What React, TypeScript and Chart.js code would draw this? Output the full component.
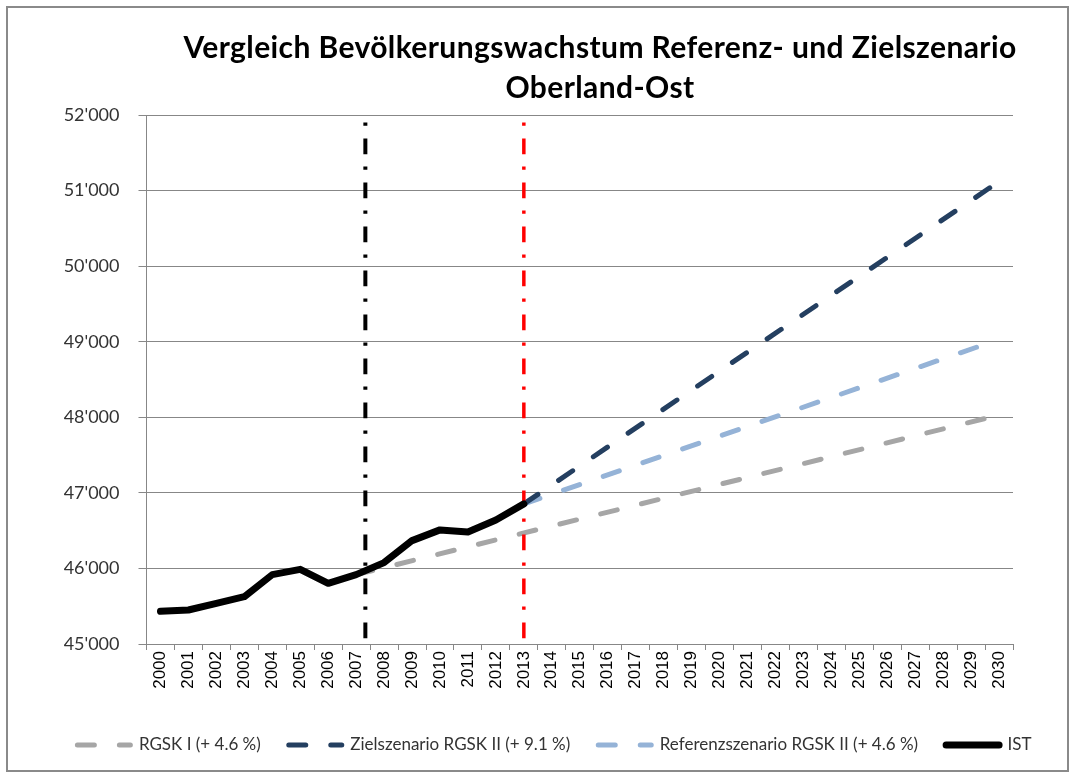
import React, { useEffect, useRef } from 'react';
import { Chart, registerables } from 'chart.js';

Chart.register(...registerables);

const years = [
  '2000', '2001', '2002', '2003', '2004', '2005', '2006', '2007', '2008', '2009',
  '2010', '2011', '2012', '2013', '2014', '2015', '2016', '2017', '2018', '2019',
  '2020', '2021', '2022', '2023', '2024', '2025', '2026', '2027', '2028', '2029', '2030',
];

// IST (actual population)
const istValues = [
  45432, 45450, 45538, 45626, 45918, 45988, 45803, 45918, 46077, 46368,
  46510, 46483, 46642, 46854, null, null, null, null, null, null,
  null, null, null, null, null, null, null, null, null, null, null,
];

// RGSK I (+ 4.6 %) – straight projection from 2007 to 2030
const rgsk1Values = [
  null, null, null, null, null, null, null, 45918, null, null,
  null, null, null, null, null, null, null, null, null, null,
  null, null, null, null, null, null, null, null, null, null, 48030,
];

// Zielszenario RGSK II (+ 9.1 %) – from 2013 to 2030
const zielValues = [
  null, null, null, null, null, null, null, null, null, null,
  null, null, null, 46854, null, null, null, null, null, null,
  null, null, null, null, null, null, null, null, null, null, 51120,
];

// Referenzszenario RGSK II (+ 4.6 %) – from 2013 to 2030
const referenzValues = [
  null, null, null, null, null, null, null, null, null, null,
  null, null, null, 46854, null, null, null, null, null, null,
  null, null, null, null, null, null, null, null, null, null, 49030,
];

const seriesLabels = [
  'RGSK I (+ 4.6 %)',
  'Zielszenario RGSK II (+ 9.1 %)',
  'Referenzszenario RGSK II (+ 4.6 %)',
  'IST',
];

// Vertical markers (category index position) and their vertical extent
const blackMarkerPos = 7.33;
const redMarkerPos = 13;
const markerExtent = [51900, 45000];

const yTicksMin = 45000;
const yTicksMax = 52000;
const yTickStep = 1000;

const fmt = (v: number) => {
  const s = Math.round(v).toString();
  return s.length > 3 ? s.slice(0, s.length - 3) + "'" + s.slice(s.length - 3) : s;
};

export default function App() {
  const ref = useRef<HTMLCanvasElement>(null);

  useEffect(() => {
    if (!ref.current) return;
    const dash = [17, 25];
    const chart = new Chart(ref.current, {
      type: 'line',
      data: {
        labels: years,
        datasets: [
          {
            label: seriesLabels[0],
            data: rgsk1Values,
            borderColor: '#A6A6A6',
            backgroundColor: '#A6A6A6',
            borderWidth: 5,
            borderDash: dash,
            borderCapStyle: 'round',
            spanGaps: true,
            pointRadius: 0,
            order: 4,
          },
          {
            label: seriesLabels[1],
            data: zielValues,
            borderColor: '#243F60',
            backgroundColor: '#243F60',
            borderWidth: 5,
            borderDash: dash,
            borderCapStyle: 'round',
            spanGaps: true,
            pointRadius: 0,
            order: 3,
          },
          {
            label: seriesLabels[2],
            data: referenzValues,
            borderColor: '#95B3D7',
            backgroundColor: '#95B3D7',
            borderWidth: 5,
            borderDash: dash,
            borderCapStyle: 'round',
            spanGaps: true,
            pointRadius: 0,
            order: 3,
          },
          {
            label: seriesLabels[3],
            data: istValues,
            borderColor: '#000000',
            backgroundColor: '#000000',
            borderWidth: 7,
            borderCapStyle: 'round',
            borderJoinStyle: 'round',
            pointRadius: 0,
            order: 0,
          },
          {
            label: 'marker2007',
            xAxisID: 'x2',
            data: markerExtent.map((y) => ({ x: blackMarkerPos, y })),
            borderColor: '#000000',
            borderWidth: 4,
            borderDash: [3.3, 12.7, 15.7, 12.3],
            borderCapStyle: 'butt',
            pointRadius: 0,
            order: 1,
          },
          {
            label: 'marker2013',
            xAxisID: 'x2',
            data: markerExtent.map((y) => ({ x: redMarkerPos, y })),
            borderColor: '#FF0000',
            borderWidth: 3.5,
            borderDash: [3.3, 12.7, 15.7, 12.3],
            borderCapStyle: 'butt',
            pointRadius: 0,
            order: 1,
          },
        ] as any,
      },
      options: {
        responsive: false,
        animation: false,
        events: [],
        layout: { padding: { left: 40, right: 5, top: 115, bottom: 14.5 } },
        plugins: {
          title: { display: false },
          tooltip: { enabled: false },
          legend: {
            position: 'bottom',
            labels: {
              usePointStyle: true,
              pointStyle: 'line',
              pointStyleWidth: 53,
              font: { family: 'Lato', size: 17 },
              color: '#333333',
              padding: 28,
              filter: (item: any) => item.datasetIndex < 4,
              sort: (a: any, b: any) => a.datasetIndex - b.datasetIndex,
              generateLabels: (c: any) => {
                const items = (Chart.defaults.plugins.legend.labels as any).generateLabels(c);
                items.forEach((it: any) => {
                  const ds = c.data.datasets[it.datasetIndex];
                  it.lineDash = ds.borderDash || [];
                  it.lineWidth = ds.borderWidth;
                  it.lineCap = ds.borderCapStyle || 'butt';
                  it.strokeStyle = ds.borderColor;
                  it.fillStyle = ds.borderColor;
                });
                return items;
              },
            },
          },
        },
        scales: {
          x: {
            type: 'category',
            offset: true,
            grid: {
              offset: true,
              drawOnChartArea: false,
              drawTicks: true,
              tickLength: 6,
              color: '#878787',
            },
            border: { color: '#878787' },
            ticks: {
              minRotation: 90,
              maxRotation: 90,
              autoSkip: false,
              padding: 1,
              color: '#000000',
              font: { family: 'Liberation Sans', size: 17 },
            },
            afterFit: (s: any) => {
              s.height = 64.5;
            },
          },
          x2: {
            type: 'linear',
            display: false,
            min: -0.5,
            max: 30.5,
          },
          y: {
            min: yTicksMin,
            max: yTicksMax,
            ticks: {
              stepSize: yTickStep,
              padding: 19,
              color: '#333333',
              font: { family: 'Lato', size: 18 },
              callback: (v: any) => fmt(Number(v)),
            },
            grid: { color: '#878787', tickLength: 8 },
            border: { color: '#878787' },
            afterFit: (s: any) => {
              s.width = 106.5;
            },
          },
          yRightSpacer: {
            type: 'linear',
            position: 'right',
            display: true,
            grid: { display: false, drawTicks: false },
            border: { display: false },
            ticks: { display: false },
            afterFit: (s: any) => {
              s.width = 56;
            },
          },
        },
      } as any,
    });
    return () => chart.destroy();
  }, []);

  return (
    <div
      style={{
        position: 'absolute',
        left: 0,
        top: 0,
        width: 1074,
        height: 778,
        background: '#ffffff',
        overflow: 'hidden',
      }}
    >
      <canvas
        ref={ref}
        width={1074}
        height={778}
        style={{ position: 'absolute', left: 0, top: 0, width: 1074, height: 778 }}
      />
      <div
        style={{
          position: 'absolute',
          left: 6,
          top: 6,
          width: 1063,
          height: 766,
          boxSizing: 'border-box',
          border: '2px solid #8a8a8a',
          pointerEvents: 'none',
        }}
      />
      <div
        style={{
          position: 'absolute',
          left: 100,
          top: 26,
          width: 1000,
          textAlign: 'center',
          whiteSpace: 'nowrap',
          fontFamily: 'Lato',
          fontWeight: 'bold',
          fontSize: 30,
          letterSpacing: '0.4px',
          lineHeight: '40px',
          color: '#000000',
        }}
      >
        Vergleich Bevölkerungswachstum Referenz- und Zielszenario
        <br />
        Oberland-Ost
      </div>
    </div>
  );
}
